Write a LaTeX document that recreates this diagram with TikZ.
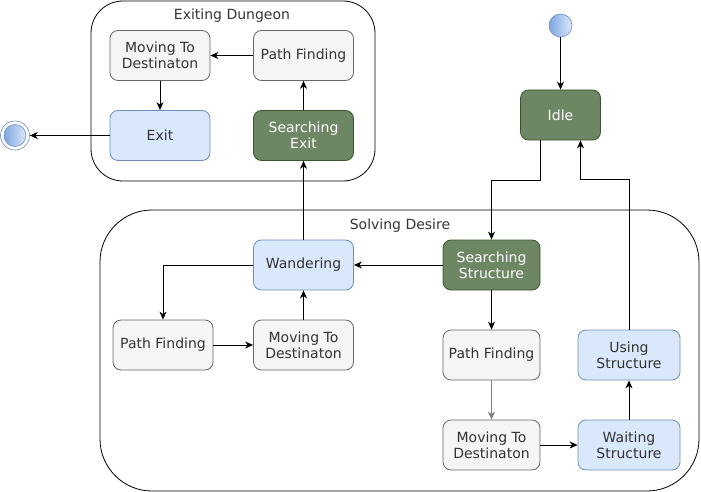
\documentclass[tikz,border=0pt]{standalone}
\usepackage{fontspec}
\setmainfont{DejaVu Sans}
\usetikzlibrary{arrows.meta}
\definecolor{greyfill}{HTML}{F5F5F5}
\definecolor{greyline}{HTML}{666666}
\definecolor{bluefill}{HTML}{DAE8FC}
\definecolor{blueline}{HTML}{6C8EBF}
\definecolor{greenfill}{HTML}{6D8764}
\definecolor{greenline}{HTML}{3A5431}
\definecolor{darktext}{HTML}{333333}
\definecolor{balldark}{HTML}{7EA6E0}
\tikzset{
  state/.style={rounded corners=8pt, minimum width=100pt, minimum height=50pt,
    align=center, line width=0.8pt, font=\fontsize{14}{16}\selectfont},
  greystate/.style={state, fill=greyfill, draw=greyline, text=darktext},
  bluestate/.style={state, fill=bluefill, draw=blueline, text=darktext},
  greenstate/.style={state, fill=greenfill, draw=greenline, text=white},
  flow/.style={line width=0.8pt, -{Stealth[length=8pt,width=7pt,inset=2.5pt]}},
  boxtitle/.style={text=darktext, font=\fontsize{14}{16}\selectfont}
}
\begin{document}
\begin{tikzpicture}[x=1pt,y=-1pt]
\useasboundingbox (0,0) rectangle (701,492);

% containers
\draw[line width=0.8pt,rounded corners=32pt] (91,1) rectangle (375,181);
\node[boxtitle] (exittitle) at (232,16) {Exiting Dungeon};
\draw[line width=0.8pt,rounded corners=52pt] (100,210) rectangle (699,491);
\node[boxtitle] (solvetitle) at (400,226) {Solving Desire};

% start and end
\node[circle,draw=blueline,line width=0.6pt,left color=balldark,right color=bluefill,
  minimum size=23pt,inner sep=0pt] (start) at (560.5,25.5) {};
\node[circle,draw=blueline,line width=0.6pt,fill=white,minimum size=29pt,inner sep=0pt] (finish) at (15,135.5) {};
\node[circle,draw=blueline,line width=0.6pt,left color=balldark,right color=bluefill,
  minimum size=22pt,inner sep=0pt] (finishin) at (15,135.5) {};

% exiting dungeon
\node[greystate] (moveexit) at (160,55.5) {Moving To\\Destinaton};
\node[greystate] (pathexit) at (303.5,55.5) {Path Finding};
\node[bluestate] (exit) at (160,135.5) {Exit};
\node[greenstate] (searchexit) at (303.5,135.5) {Searching\\Exit};

\node[greenstate, minimum width=80pt] (idle) at (560.5,115) {Idle};

% solving desire
\node[bluestate] (wander) at (303.5,265) {Wandering};
\node[greenstate, minimum width=97pt] (searchstruct) at (491.5,265) {Searching\\Structure};
\node[greystate] (pathwander) at (163,345) {Path Finding};
\node[greystate] (movewander) at (303.5,345) {Moving To\\Destinaton};
\node[greystate, minimum width=97pt] (pathstruct) at (491.5,355) {Path Finding};
\node[greystate, minimum width=97pt] (movestruct) at (491.5,445) {Moving To\\Destinaton};
\node[bluestate, minimum width=102pt] (usestruct) at (629,355) {Using\\Structure};
\node[bluestate, minimum width=102pt] (waitstruct) at (629,445) {Waiting\\Structure};

% connectors
\draw[flow] (start) -- (idle);
\draw[flow] ([xshift=-20pt]idle.south) -- ++(0,40) -| (searchstruct.north);
\draw[flow] (usestruct.north) -- ++(0,-150) -| ([xshift=20pt]idle.south);
\draw[flow] (searchstruct) -- (wander);
\draw[flow] (wander) -- (searchexit);
\draw[flow] (searchexit) -- (pathexit);
\draw[flow] (pathexit) -- (moveexit);
\draw[flow] (moveexit) -- (exit);
\draw[flow] (exit) -- (finish);
\draw[flow] (wander.west) -| (pathwander.north);
\draw[flow] (pathwander) -- (movewander);
\draw[flow] (movewander) -- (wander);
\draw[flow] (searchstruct) -- (pathstruct);
\draw[flow,draw=gray,fill=gray] (pathstruct) -- (movestruct);
\draw[flow] (movestruct) -- (waitstruct);
\draw[flow] (waitstruct) -- (usestruct);

\end{tikzpicture}
\end{document}
